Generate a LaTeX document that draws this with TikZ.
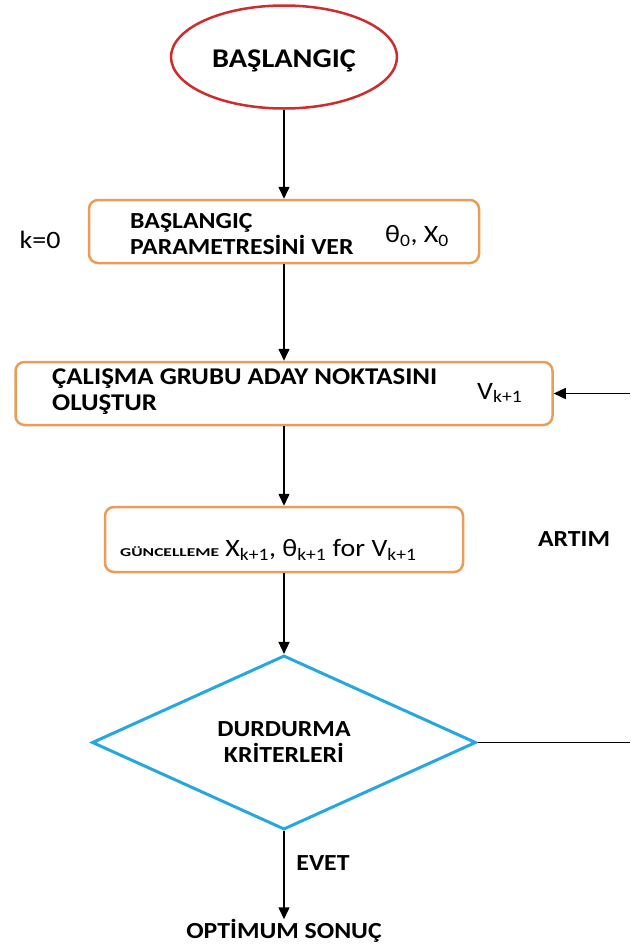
\documentclass[tikz,border=0pt]{standalone}
\usepackage{fontspec}
\usepackage{graphicx}
\setmainfont{Carlito}[FakeStretch=1.12]
\usetikzlibrary{shapes.geometric,arrows.meta}
\definecolor{startred}{RGB}{205,45,45}
\definecolor{boxorange}{RGB}{232,158,88}
\definecolor{diamblue}{RGB}{38,168,222}
\begin{document}
\begin{tikzpicture}[x=1pt,y=-1pt,
 flow/.style={draw=black, line width=1.5pt, -{Triangle[width=11pt,length=12pt]}},
 plain/.style={draw=black, line width=1.5pt},
 startnode/.style={ellipse, draw=startred, line width=2.5pt, minimum width=226pt, minimum height=103pt, inner sep=0pt, font=\fontsize{27}{30}\selectfont\bfseries},
 procbox/.style={rectangle, rounded corners=9pt, draw=boxorange, line width=2.5pt, inner sep=0pt},
 decision/.style={diamond, draw=diamblue, line width=3pt, minimum width=384pt, minimum height=135pt, inner sep=0pt, align=center, font=\fontsize{23}{26}\selectfont\bfseries},
 boldlabel/.style={font=\fontsize{23}{26}\selectfont\bfseries, inner sep=0pt, align=left},
 symlabel/.style={font=\fontsize{25}{28}\selectfont, inner sep=0pt},
]
\useasboundingbox[fill=white] (0,0) rectangle (630,946);

\node[startnode] (start) at (284,57) {\raisebox{-4pt}[\height][\depth]{BAŞLANGIÇ}};

\node[procbox, minimum width=390pt, minimum height=63pt] (b1) at (284,231.5) {};
\node[boldlabel, anchor=west] (b1text) at (130,234.5) {BAŞLANGIÇ\\PARAMETRESİNİ VER};
\node[symlabel, anchor=west] (b1sym) at (385,236) {θ\textsubscript{0}, X\textsubscript{0}};
\node[symlabel] (k0) at (40,240) {k=0};

\node[procbox, minimum width=537pt, minimum height=63pt] (b2) at (284,393.5) {};
\node[boldlabel, anchor=west, font=\fontsize{24}{26}\selectfont\bfseries] (b2text) at (52,392) {ÇALIŞMA GRUBU ADAY NOKTASINI\\OLUŞTUR};
\node[symlabel, anchor=west] (b2sym) at (477,393) {V\textsubscript{k+1}};

\node[procbox, minimum width=358pt, minimum height=65pt] (b3) at (284,539.5) {};
\node[symlabel, anchor=west] (b3text) at (120,550) {\scalebox{1.3}[1]{\fontsize{12}{12}\selectfont\bfseries GÜNCELLEME} X\textsubscript{k+1}, θ\textsubscript{k+1} for V\textsubscript{k+1}};
\node[boldlabel] (artim) at (574,539) {ARTIM};

\node[decision] (dec) at (284,742.5) {DURDURMA\\KRİTERLERİ};
\node[boldlabel] (yes) at (323,863) {EVET};
\node[boldlabel] (res) at (284,931) {OPTİMUM SONUÇ};

\coordinate (fbin) at (630,393.5);
\coordinate (fbout) at (630,742.5);

\draw[flow] (start) -- (b1);
\draw[flow] (b1) -- (b2);
\draw[flow] (b2) -- (b3);
\draw[flow] (b3) -- (dec);
\draw[flow] (dec.south) -- (res.north);
\draw[flow] (fbin) -- (b2.east);
\draw[plain] (dec.east) -- (fbout);
\end{tikzpicture}
\end{document}
